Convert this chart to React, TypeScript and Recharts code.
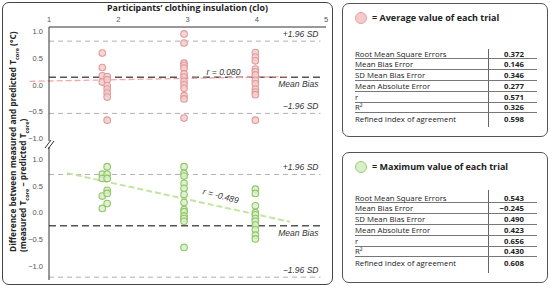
import React from 'react';
import { ScatterChart, Scatter, XAxis, YAxis, ReferenceLine, ReferenceDot } from 'recharts';

// clothing insulation ticks / difference ticks
const xTicks = [1, 2, 3, 4, 5];
const yTicks = [-1, -0.5, 0, 0.5, 1];

// average value of each trial: [clo, difference]
const avgPoints: [number, number][] = [
  [1.77, 0.6], [1.77, 0.33], [1.77, 0.175], [1.77, 0.056],
  [1.84, 0.16], [1.84, 0.1], [1.84, -0.01], [1.84, -0.075], [1.84, -0.15], [1.84, -0.225], [1.84, -0.66],
  [2.95, 0.96], [2.95, 0.79], [2.95, 0.41], [2.95, 0.37], [2.95, 0.32], [2.95, 0.21], [2.95, 0.15],
  [2.95, 0.07], [2.95, 0.005], [2.95, -0.06], [2.95, -0.2], [2.95, -0.26], [2.95, -0.62],
  [3.98, 0.61], [3.98, 0.525], [3.98, 0.455], [3.98, 0.3], [3.98, 0.25], [3.98, 0.19], [3.98, 0.09],
  [3.98, 0.025], [3.98, -0.075], [3.98, -0.13], [3.98, -0.18], [3.98, -0.66],
];

// maximum value of each trial
const maxPoints: [number, number][] = [
  [1.77, 0.72], [1.77, 0.64], [1.77, 0.31], [1.77, 0.08],
  [1.84, 0.86], [1.84, 0.72], [1.84, 0.64], [1.84, 0.42], [1.84, 0.36], [1.84, 0.17],
  [2.95, 0.86], [2.95, 0.735], [2.95, 0.685], [2.95, 0.55], [2.95, 0.455], [2.95, 0.34], [2.95, 0.19],
  [2.95, 0.06], [2.95, 0.02], [2.95, -0.06], [2.95, -0.11], [2.95, -0.16], [2.95, -0.65],
  [3.98, 0.44], [3.98, 0.36], [3.98, 0.13], [3.98, 0.0], [3.98, -0.04], [3.98, -0.11], [3.98, -0.16],
  [3.98, -0.23], [3.98, -0.32], [3.98, -0.42], [3.98, -0.49],
];

// +1.96 SD, mean bias, -1.96 SD
const avgLimits = [0.824, 0.146, -0.532];
const maxLimits = [0.715, -0.245, -1.205];
const limitNames = ['+1.96 SD', 'Mean Bias', '\u22121.96 SD'];

// regression lines (start, end)
const avgFit: [number, number][] = [[0.72, 0.07], [4.44, 0.16]];
const maxFit: [number, number][] = [[1.26, 0.74], [4.48, -0.17]];

const metricNames = [
  'Root Mean Square Errors', 'Mean Bias Error', 'SD Mean Bias Error', 'Mean Absolute Error',
  'r', 'R\u00b2', 'Refined Index of agreement',
];
const avgStats = ['0.372', '0.146', '0.346', '0.277', '0.571', '0.326', '0.598'];
const maxStats = ['0.543', '\u22120.245', '0.490', '0.423', '0.656', '0.430', '0.608'];

const SANS = '"Open Sans", "Noto Sans", sans-serif';
const ARIAL = '"Liberation Sans", Arial, sans-serif';

const fmtY = (v: number) => (v < 0 ? '\u2212' : '') + Math.abs(v).toFixed(1);

const sideLabel = (text: string, below: boolean) => (props: any) => {
  const vb = props.viewBox || {};
  return (
    <text x={vb.x + vb.width - 2} y={below ? vb.y + 10 : vb.y - 4} textAnchor="end"
      fontSize={8.5} fontStyle="italic" fill="#333" fontFamily={ARIAL}>{text}</text>
  );
};

const rLabel = (text: string, angle: number) => (props: any) => {
  const vb = props.viewBox || {};
  return (
    <text x={vb.x} y={vb.y} textAnchor="middle" fontSize={8.5} fontStyle="italic" fill="#333"
      fontFamily={ARIAL} transform={`rotate(${angle} ${vb.x} ${vb.y})`}>{text}</text>
  );
};

interface PanelProps {
  points: [number, number][];
  limits: number[];
  fit: [number, number][];
  rText: string;
  rAt: [number, number];
  rAngle: number;
  domain: [number, number];
  top: boolean;
  height: number;
  fill: string;
  stroke: string;
  fitColor: string;
}

const Panel = ({ points, limits, fit, rText, rAt, rAngle, domain, top, height, fill, stroke, fitColor }: PanelProps) => {
  const data = points.map(([x, y]) => ({ x, y }));
  return (
    <ScatterChart width={340} height={height}
      margin={top ? { top: 0, right: 14, bottom: 4, left: 0 } : { top: 2, right: 14, bottom: 8, left: 0 }}>
      {top ? (
        <XAxis type="number" dataKey="x" domain={[1, 5]} ticks={xTicks} orientation="top" height={27}
          axisLine={{ stroke: '#333' }} tickLine={false} tickSize={3} tickMargin={2}
          tick={{ fontSize: 7.5, fill: '#555', fontFamily: ARIAL }} allowDataOverflow />
      ) : (
        <XAxis type="number" dataKey="x" domain={[1, 5]} hide allowDataOverflow />
      )}
      <YAxis type="number" dataKey="y" domain={domain} ticks={yTicks} width={49} allowDataOverflow
        axisLine={{ stroke: '#333' }} tickLine={false} tickSize={4} tickMargin={2}
        tick={{ fontSize: 7.5, fill: '#555', fontFamily: ARIAL }} tickFormatter={fmtY} />

      {limits.map((v, i) => (
        <ReferenceLine key={i} segment={[{ x: 1, y: v }, { x: 4.92, y: v }]}
          stroke={i === 1 ? '#555' : '#b0b0b0'} strokeWidth={i === 1 ? 1.5 : 1}
          strokeDasharray={i === 1 ? '7 4' : '5 4'} ifOverflow="visible"
          label={sideLabel(limitNames[i], i === 1)} />
      ))}

      <ReferenceLine segment={[{ x: fit[0][0], y: fit[0][1] }, { x: fit[1][0], y: fit[1][1] }]}
        stroke={fitColor} strokeWidth={top ? 1.3 : 2} strokeDasharray="6 3" ifOverflow="visible" />

      <Scatter data={data} isAnimationActive={false}
        shape={(p: any) => <circle cx={p.cx} cy={p.cy} r={3.3} fill={fill} fillOpacity={0.85} stroke={stroke} strokeWidth={1.1} />} />

      <ReferenceDot x={rAt[0]} y={rAt[1]} r={0} fill="none" stroke="none" label={rLabel(rText, rAngle)} />
    </ScatterChart>
  );
};

interface StatsProps {
  top: number;
  height: number;
  title: string;
  fill: string;
  stroke: string;
  values: string[];
  legendY: number;
  rowsY: number;
  divTop: number;
  divBottom: number;
}

const StatsBox = ({ top, height, title, fill, stroke, values, legendY, rowsY, divTop, divBottom }: StatsProps) => (
  <div style={{
    position: 'absolute', left: 342, top, width: 206, height, boxSizing: 'border-box',
    border: '1.3px solid #555', borderRadius: 7, fontFamily: SANS, color: '#222',
  }}>
    <div style={{
      position: 'absolute', left: 12, top: legendY - 6, width: 12, height: 12, borderRadius: '50%',
      background: fill, border: `1px solid ${stroke}`, boxSizing: 'border-box',
    }} />
    <div style={{
      position: 'absolute', left: 29, top: legendY - 7, height: 14, lineHeight: '14px',
      fontSize: 9, fontWeight: 700, whiteSpace: 'nowrap',
    }}>= {title}</div>
    <div style={{ position: 'absolute', left: 145, top: divTop, width: 1, height: divBottom - divTop, background: '#666' }} />
    <div style={{ position: 'absolute', left: 12, top: rowsY - 5.4, width: 182 }}>
      {metricNames.map((m, i) => (
        <div key={m} style={{
          display: 'flex', alignItems: 'center', height: 10.8, boxSizing: 'border-box',
          borderBottom: i < metricNames.length - 1 ? '1px solid #777' : 'none', fontSize: 7.8,
        }}>
          <span style={{ flex: 1, whiteSpace: 'nowrap' }}>{m}</span>
          <span style={{ width: 40, textAlign: 'right', paddingRight: 13, fontWeight: 700 }}>{values[i]}</span>
        </div>
      ))}
    </div>
  </div>
);

const subStyle = { fontSize: 5.5, lineHeight: 0 };

export default function App() {
  return (
    <div style={{ position: 'absolute', left: 0, top: 0, width: 550, height: 288, background: '#fff', overflow: 'hidden' }}>
      <div style={{
        position: 'absolute', left: 2, top: 2, width: 331, height: 283, boxSizing: 'border-box',
        border: '1.5px solid #444', borderRadius: 7,
      }} />
      <div style={{ position: 'absolute', left: 0, top: 0 }}>
        <Panel points={avgPoints} limits={avgLimits} fit={avgFit} rText="r = 0.080" rAt={[3.52, 0.19]} rAngle={0}
          domain={[-1.05, 1.09]} top height={145} fill="#f6cccc" stroke="#e09a9a" fitColor="#f3a5a5" />
      </div>
      <div style={{ position: 'absolute', left: 0, top: 145 }}>
        <Panel points={maxPoints} limits={maxLimits} fit={maxFit} rText="r = -0.489" rAt={[3.47, 0.26]} rAngle={15}
          domain={[-1.258, 1.228]} top={false} height={143} fill="#d9efc8" stroke="#8fc766" fitColor="#c2e6a0" />
      </div>
      <svg style={{ position: 'absolute', left: 0, top: 0 }} width={60} height={160}>
        <rect x={44} y={141} width={10} height={6} fill="#fff" />
        <line x1={45} y1={148} x2={51} y2={140} stroke="#333" strokeWidth={1} />
        <line x1={48} y1={149} x2={54} y2={141} stroke="#333" strokeWidth={1} />
      </svg>
      <div style={{
        position: 'absolute', left: 49, top: 3, width: 277, textAlign: 'center',
        fontFamily: SANS, fontWeight: 700, fontSize: 8.8, color: '#222', lineHeight: '10px',
      }}>Participants’ clothing insulation (clo)</div>
      <div style={{
        position: 'absolute', left: 8, top: 252, width: 215, transformOrigin: '0 0', transform: 'rotate(-90deg)',
        fontFamily: SANS, fontWeight: 700, fontSize: 8.3, color: '#222', lineHeight: '10px', whiteSpace: 'nowrap',
      }}>
        <div style={{ height: 10 }}>Difference between measured and predicted T<sub style={subStyle}>core</sub> (°C)</div>
        <div style={{ height: 10 }}>(measured T<sub style={subStyle}>core</sub> – predicted T<sub style={subStyle}>core</sub>)</div>
      </div>
      <StatsBox top={3} height={134} title="Average value of each trial" fill="#f6caca" stroke="#e3a3a3"
        values={avgStats} legendY={14} rowsY={50} divTop={45} divBottom={123} />
      <StatsBox top={152} height={131} title="Maximum value of each trial" fill="#d9efc8" stroke="#9ccc7a"
        values={maxStats} legendY={14} rowsY={45} divTop={37} divBottom={120} />
    </div>
  );
}
